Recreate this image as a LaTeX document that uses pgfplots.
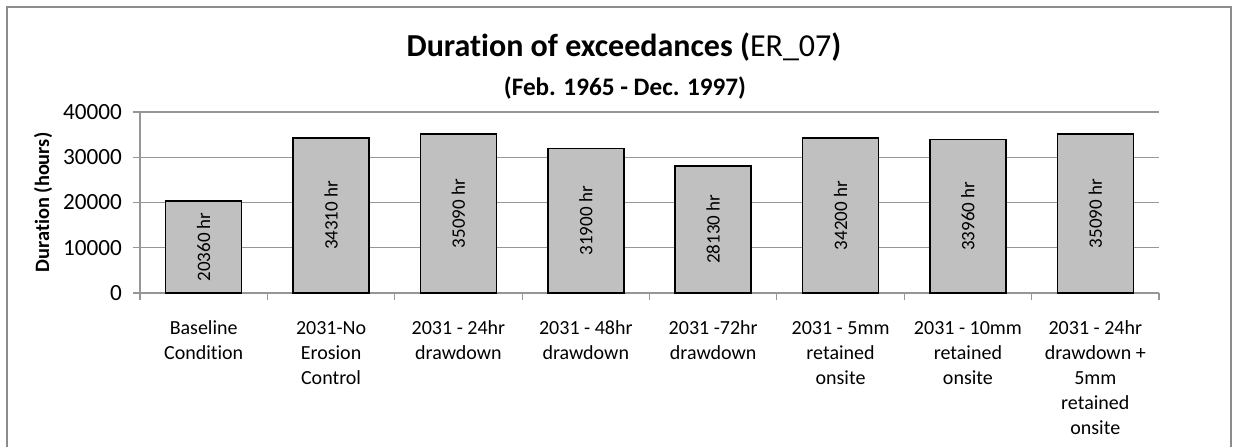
\documentclass[border=0pt]{standalone}
\usepackage{pgfplots}
\usepackage{pgfplotstable}
\pgfplotsset{compat=1.18}
\usepackage{fontspec}
\setmainfont{Carlito}[Ligatures={NoCommon}]
\definecolor{barfill}{RGB}{192,192,192}
\definecolor{gridc}{RGB}{150,150,150}
\definecolor{framec}{RGB}{140,140,140}
\pgfplotstableread{
x y
0 20360
1 34310
2 35090
3 31900
4 28130
5 34200
6 33960
7 35090
}\datatab
\begin{document}
\begin{tikzpicture}[x=1pt,y=1pt]
\useasboundingbox (0,0) rectangle (618,223.5);
\fill[white] (0,0) rectangle (618,223.5);
\draw[framec, line width=0.7pt] (3.5,0) -- (3.5,220) -- (615.5,220) -- (615.5,0);
\node[anchor=base, font=\fontsize{16}{19}\selectfont\bfseries] at (312,195.5) {Duration of exceedances (\mdseries ER\_07\bfseries)};
\node[anchor=base, font=\fontsize{12.6}{15}\selectfont\bfseries] at (312.5,176) {(Feb. 1965 - Dec. 1997)};
\begin{axis}[
  at={(70pt,77pt)}, anchor=south west,
  width=509.5pt, height=90.5pt, scale only axis=true,
  xmin=-0.5, xmax=7.5, ymin=0, ymax=40000,
  ytick={0,10000,20000,30000,40000},
  scaled y ticks=false,
  /pgf/number format/1000 sep={},
  /pgf/number format/assume math mode=true,
  yticklabel style={font=\fontsize{11.6}{13}\selectfont, xshift=-2pt},
  ymajorgrids=true,
  grid style={gridc, line width=0.6pt},
  axis x line*=bottom, axis y line*=left,
  axis line style={gridc, line width=0.6pt, -},
  xtick={0,...,7},
  xticklabels={
    {Baseline\\Condition},
    {2031-No\\Erosion\\Control},
    {2031 - 24hr\\drawdown},
    {2031 - 48hr\\drawdown},
    {2031 -72hr\\drawdown},
    {2031 - 5mm\\retained\\onsite},
    {2031 - 10mm\\retained\\onsite},
    {2031 - 24hr\\drawdown +\\5mm\\retained\\onsite}},
  xticklabel style={font=\fontsize{10}{12.5}\selectfont, align=center, anchor=north, yshift=-7pt},
  major x tick style={draw=none},
  minor xtick={-0.5,0.5,...,7.5},
  minor x tick style={gridc, line width=0.6pt},
  minor tick length=3.5pt,
  major tick length=3.5pt,
  tick align=outside,
  ytick style={gridc, line width=0.6pt},
  ylabel={Duration (hours)},
  ylabel style={font=\fontsize{10.2}{12}\selectfont\bfseries, at={(axis description cs:-0.095,0.5)}, anchor=center, rotate=0},
  clip=false,
]
\addplot[ybar, bar width=38pt, bar shift=0pt, fill=barfill, draw=black, line width=0.8pt]
  table[x=x, y=y] {\datatab};
\addplot[draw=none, mark=none, point meta=explicit,
  nodes near coords={\pgfmathprintnumber[fixed,1000 sep={}]{\pgfplotspointmeta}~hr},
  nodes near coords style={rotate=90, anchor=center, font=\fontsize{9.5}{11}\selectfont}]
  table[x=x, y expr=\thisrow{y}/2, meta=y] {\datatab};
\end{axis}
\end{tikzpicture}
\end{document}
